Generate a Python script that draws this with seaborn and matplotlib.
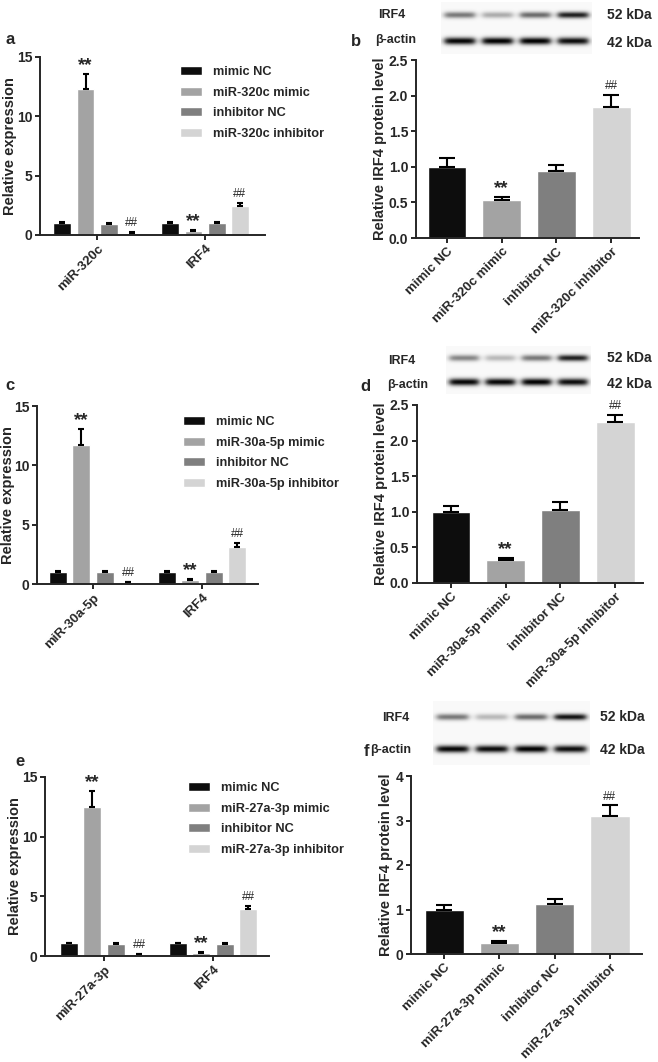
import numpy as np
import pandas as pd
import matplotlib
matplotlib.use("Agg")
import matplotlib.pyplot as plt
import seaborn as sns

sns.set_style("ticks")
plt.rcParams['font.family'] = ['Liberation Sans', 'DejaVu Sans']
plt.rcParams['font.weight'] = 'bold'

# ---- data ----
colors = ['#0d0d0d', '#a3a3a3', '#7f7f7f', '#d4d4d4']
marks = ['', '**', '', '##']

a_genes = ['miR-320c', 'IRF4']
a_groups = ['mimic NC', 'miR-320c mimic', 'inhibitor NC', 'miR-320c inhibitor']
a_mean = [[1.05, 1.05], [12.3, 0.35], [0.95, 1.0], [0.2, 2.45]]
a_err = [[0.08, 0.08], [1.3, 0.1], [0.08, 0.08], [0.05, 0.25]]

b_mean = [1.0, 0.53, 0.94, 1.84]
b_err = [0.12, 0.05, 0.09, 0.17]
b_irf4 = [0.5, 0.3, 0.55, 0.85]
b_actin = [0.95, 0.97, 0.97, 0.92]

c_genes = ['miR-30a-5p', 'IRF4']
c_groups = ['mimic NC', 'miR-30a-5p mimic', 'inhibitor NC', 'miR-30a-5p inhibitor']
c_mean = [[1.05, 1.05], [11.7, 0.3], [1.0, 1.0], [0.15, 3.15]]
c_err = [[0.08, 0.08], [1.35, 0.08], [0.08, 0.08], [0.05, 0.3]]

d_mean = [1.0, 0.32, 1.03, 2.26]
d_err = [0.08, 0.03, 0.11, 0.1]
d_irf4 = [0.45, 0.25, 0.5, 0.85]
d_actin = [0.95, 0.95, 0.97, 0.92]

e_genes = ['miR-27a-3p', 'IRF4']
e_groups = ['mimic NC', 'miR-27a-3p mimic', 'inhibitor NC', 'miR-27a-3p inhibitor']
e_mean = [[1.05, 1.05], [12.5, 0.25], [1.0, 1.0], [0.15, 3.9]]
e_err = [[0.05, 0.08], [1.3, 0.08], [0.08, 0.08], [0.05, 0.3]]

f_mean = [1.0, 0.25, 1.12, 3.09]
f_err = [0.1, 0.04, 0.12, 0.25]
f_irf4 = [0.5, 0.25, 0.55, 0.9]
f_actin = [0.95, 0.93, 0.97, 0.92]

W, H = 658, 1062
fig = plt.figure(figsize=(W / 100, H / 100), dpi=100)


def px_axes(left, top, right, bottom):
    return fig.add_axes([left / W, 1 - bottom / H, (right - left) / W, (bottom - top) / H])


def ftext(x, y, s, **kw):
    fig.text(x / W, 1 - y / H, s, va='center', fontweight='bold', **kw)


def style(ax, rect, label_x):
    sns.despine(ax=ax)
    for sp in ax.spines.values():
        sp.set_linewidth(1.4)
    ax.tick_params(width=1.4, length=3.5, pad=2, labelsize=10)
    ax.tick_params(axis='x', labelsize=9.5)
    for t in ax.get_yticklabels():
        t.set_fontweight('bold')
    # y label: right edge at the pixel column
    ax.yaxis.set_label_coords((label_x - rect[0]) / (rect[2] - rect[0]), 0.5)


def err_and_mark(ax, bar, e, mark, cap):
    cx = bar.get_x() + bar.get_width() / 2
    top = bar.get_height()
    ax.errorbar([cx], [top], yerr=[[0], [e]], fmt='none', ecolor='black',
                elinewidth=1.5, capsize=cap, capthick=1.5)
    if mark == '**':
        ax.annotate(mark, (cx, top + e), xytext=(0, 0), textcoords='offset points',
                    ha='center', va='bottom', fontsize=13.5, fontweight='bold')
    elif mark == '##':
        ax.annotate(mark, (cx, top + e), xytext=(0, 2), textcoords='offset points',
                    ha='center', va='bottom', fontsize=8.5, fontweight='normal')


def qpcr_panel(rect, genes, groups, mean, err, ymax, xlim, leg_xy, letter, letter_xy, label_x):
    ax = px_axes(*rect)
    df = pd.DataFrame({'gene': np.tile(genes, len(groups)),
                       'group': np.repeat(groups, len(genes)),
                       'value': np.ravel(mean)})
    sns.barplot(df, x='gene', y='value', hue='group', order=genes, hue_order=groups,
                palette=dict(zip(groups, colors)), width=0.86, gap=0.23,
                errorbar=None, saturation=1, ax=ax)
    for cont, errs, mk in zip(ax.containers, err, marks):
        for bar, e in zip(cont, errs):
            err_and_mark(ax, bar, e, mk, 2.2)
    ax.set_ylim(0, ymax)
    ax.set_yticks([0, 5, 10, 15])
    ax.set_xlim(*xlim)
    ax.set_xlabel('')
    ax.set_ylabel('Relative expression', fontsize=10.5, fontweight='bold')
    ax.set_xticks(range(len(genes)))
    ax.set_xticklabels(genes, rotation=45, ha='right', rotation_mode='anchor',
                       fontweight='bold')
    style(ax, rect, label_x)
    h, l = ax.get_legend_handles_labels()
    ax.legend(h, l, loc='upper left', bbox_to_anchor=(leg_xy[0] / W, 1 - leg_xy[1] / H),
              bbox_transform=fig.transFigure, frameon=False, borderpad=0,
              borderaxespad=0, handlelength=1.75, handleheight=0.7,
              handletextpad=0.8, labelspacing=0.68, prop={'weight': 'bold', 'size': 9.2})
    ftext(letter_xy[0], letter_xy[1], letter, fontsize=12, ha='center')
    return ax


def blot(rect, irf4, actin):
    x0, y0, w, h = rect
    ax = fig.add_axes([x0 / W, 1 - (y0 + h) / H, w / W, h / H])
    xs = np.arange(w) + 0.5
    ys = np.arange(h) + 0.5
    X, Y = np.meshgrid(xs, ys)
    img = np.full((h, w), 0.025)
    lane = w / 4
    for i in range(4):
        xc = (i + 0.5) * lane
        hp = 1 / (1 + np.exp((np.abs(X - xc) - 0.4 * lane) / 1.8))
        img += irf4[i] * hp * np.exp(-((Y - 0.25 * h) / 3.2) ** 2)
        img += actin[i] * hp * np.exp(-((Y - 0.75 * h) / 3.6) ** 2)
    ax.imshow(np.clip(img, 0, 1), cmap='gray_r', vmin=0, vmax=1, aspect='auto',
              extent=(0, w, h, 0), interpolation='bilinear')
    ax.axis('off')


def wb_panel(rect, groups, mean, err, ymax, yticks, yfmt, xlim, label_x):
    ax = px_axes(*rect)
    sns.barplot(x=groups, y=mean, hue=groups, palette=dict(zip(groups, colors)),
                width=0.71, errorbar=None, saturation=1, legend=False, ax=ax)
    bars = sorted(ax.patches, key=lambda p: p.get_x())
    for bar, e, mk in zip(bars, err, marks):
        err_and_mark(ax, bar, e, mk, 5.8)
    ax.set_ylim(0, ymax)
    ax.set_yticks(yticks)
    ax.set_yticklabels([yfmt.format(t) for t in yticks])
    ax.set_xlim(*xlim)
    ax.set_ylabel('Relative IRF4 protein level', fontsize=10.5, fontweight='bold')
    ax.set_xticks(range(len(groups)))
    ax.set_xticklabels(groups, rotation=45, ha='right', rotation_mode='anchor',
                       fontweight='bold')
    style(ax, rect, label_x)
    return ax


def wb_labels(letter, lx, ly, irf_x, irf_y, act_x, act_y, kda_x, k52_y, k42_y):
    ftext(lx, ly, letter, fontsize=12, ha='center')
    ftext(irf_x, irf_y, 'IRF4', fontsize=9, ha='left')
    ftext(act_x, act_y, 'β-actin', fontsize=9, ha='left')
    ftext(kda_x, k52_y, '52 kDa', fontsize=10, ha='left')
    ftext(kda_x, k42_y, '42 kDa', fontsize=10, ha='left')


# ---- panel a / b ----
qpcr_panel((40, 57, 265, 235), a_genes, a_groups, a_mean, a_err, 15,
           (-0.53, 1.556), (180, 66), 'a', (10, 39), 17)
wb_panel((416, 60, 639, 238), a_groups, b_mean, b_err, 2.5,
         [0, 0.5, 1.0, 1.5, 2.0, 2.5], '{:.1f}', (-0.567, 3.51), 387)
blot((441, 2, 151, 52), b_irf4, b_actin)
wb_labels('b', 356, 41, 378, 15, 375, 40, 607, 15, 43)

# ---- panel c / d ----
qpcr_panel((37, 406, 258, 584), c_genes, c_groups, c_mean, c_err, 15,
           (-0.514, 1.514), (183, 416), 'c', (10, 385), 15)
wb_panel((417, 405, 643, 583), c_groups, d_mean, d_err, 2.5,
         [0, 0.5, 1.0, 1.5, 2.0, 2.5], '{:.1f}', (-0.62, 3.51), 388)
blot((446, 346, 145, 48), d_irf4, d_actin)
wb_labels('d', 365, 387, 388, 361, 387, 385, 607, 358, 384)

# ---- panel e / f ----
qpcr_panel((45, 777, 269, 956), e_genes, e_groups, e_mean, e_err, 15,
           (-0.541, 1.514), (188, 782), 'e', (20, 762), 22)
wb_panel((411, 776, 642, 954), e_groups, f_mean, f_err, 4,
         [0, 1, 2, 3, 4], '{:d}', (-0.6, 3.58), 393)
blot((433, 701, 157, 64), f_irf4, f_actin)
wb_labels('f', 367, 752, 382, 718, 370, 750, 600, 717, 750)

fig.savefig('out.png', dpi=100)
